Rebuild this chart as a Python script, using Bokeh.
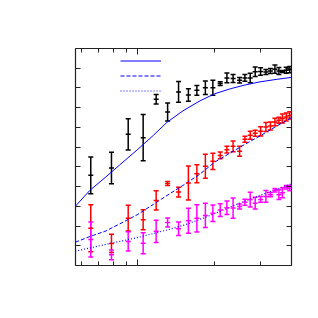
from bokeh.plotting import figure
from bokeh.models import (ColumnDataSource, Whisker, TeeHead, Range1d, FixedTicker,
                          LogAxis, LinearAxis, Legend, LegendItem, CustomJSTickFormatter)
from bokeh.embed import file_html
from bokeh.resources import INLINE

# ---- data ----
x_pts = [0.655, 0.789, 0.917, 1.049, 1.179, 1.307, 1.442, 1.575, 1.700, 1.835, 1.963,
         2.097, 2.227, 2.354, 2.496, 2.618, 2.746, 2.872, 3.015, 3.162, 3.293, 3.429,
         3.554, 3.668, 3.796, 3.917]

black_y = [0.457, 0.494, 0.665, 0.648, 0.843, 0.778, 0.880, 0.864, 0.888, 0.901, 0.901,
           0.922, 0.951, 0.948, 0.939, 0.951, 0.951, 0.982, 0.983, 0.981, 0.986, 0.995,
           0.986, 0.983, 0.990, 0.993]
black_err = [0.093, 0.080, 0.079, 0.117, 0.024, 0.046, 0.053, 0.032, 0.025, 0.034, 0.038,
             0.009, 0.025, 0.020, 0.014, 0.017, 0.024, 0.024, 0.019, 0.013, 0.013, 0.021,
             0.018, 0.005, 0.015, 0.016]

red_y = [0.189, 0.112, 0.240, 0.232, 0.330, 0.416, 0.372, 0.418, 0.465, 0.503, 0.528,
         0.558, 0.587, 0.604, 0.579, 0.640, 0.660, 0.670, 0.680, 0.702, 0.707, 0.727,
         0.736, 0.745, 0.753, 0.761]
red_err = [0.119, 0.046, 0.065, 0.051, 0.049, 0.010, 0.025, 0.086, 0.046, 0.061, 0.041,
           0.017, 0.017, 0.027, 0.025, 0.015, 0.020, 0.015, 0.023, 0.023, 0.020, 0.019,
           0.015, 0.023, 0.020, 0.018]

mag_y = [0.132, 0.054, 0.122, 0.113, 0.173, 0.218, 0.186, 0.227, 0.239, 0.254, 0.265,
         0.281, 0.293, 0.291, 0.299, 0.321, 0.334, 0.316, 0.335, 0.350, 0.359, 0.381,
         0.359, 0.369, 0.397, 0.392]
mag_err = [0.089, 0.025, 0.049, 0.053, 0.056, 0.023, 0.034, 0.063, 0.069, 0.061, 0.042,
           0.032, 0.034, 0.051, 0.013, 0.015, 0.037, 0.030, 0.015, 0.030, 0.011, 0.009,
           0.025, 0.025, 0.009, 0.013]

# model curves
x_curve = [0.57, 0.65, 0.75, 0.85, 1.0, 1.15, 1.3, 1.5, 1.75, 2.0, 2.3, 2.6, 3.0, 3.5, 4.0]
solid_y = [0.300, 0.381, 0.449, 0.510, 0.589, 0.660, 0.726, 0.784, 0.835, 0.871, 0.896,
           0.914, 0.931, 0.944, 0.954]
dashed_y = [0.118, 0.147, 0.175, 0.211, 0.259, 0.310, 0.355, 0.406, 0.464, 0.525, 0.571,
            0.612, 0.657, 0.708, 0.751]
dotted_y = [0.073, 0.089, 0.107, 0.122, 0.142, 0.162, 0.180, 0.203, 0.234, 0.264, 0.297,
            0.325, 0.355, 0.388, 0.415]

x_major = [1.0]
x_minor = [0.6, 0.7, 0.8, 0.9, 2.0, 3.0]
y_ticks = [0.1, 0.2, 0.3, 0.4, 0.5, 0.6, 0.7, 0.8, 0.9, 1.0]

# ---- figure ----
p = figure(frame_width=216, frame_height=217, x_axis_type="log",
           x_range=Range1d(0.571, 3.98), y_range=Range1d(0.0, 1.1),
           output_backend="svg", toolbar_location=None,
           min_border_left=75, min_border_right=10, min_border_top=48, min_border_bottom=30)
p.grid.visible = False
p.outline_line_color = "#222222"
p.outline_line_width = 1.2
p.background_fill_color = "white"
p.border_fill_color = "white"

blank = CustomJSTickFormatter(code="return ''")

def style_axis(ax, major, minor=None):
    ax.ticker = FixedTicker(ticks=major, minor_ticks=minor or [])
    ax.formatter = blank
    ax.major_tick_in = 6
    ax.major_tick_out = 0
    ax.minor_tick_in = 4
    ax.minor_tick_out = 0
    ax.major_tick_line_color = "#222222"
    ax.minor_tick_line_color = "#222222"
    ax.axis_line_color = None
    ax.major_label_standoff = 0

style_axis(p.xaxis[0], x_major, x_minor)
style_axis(p.yaxis[0], y_ticks)
p.yaxis[0].major_tick_in = 5

top = LogAxis()
style_axis(top, x_major, x_minor)
p.add_layout(top, "above")
right = LinearAxis()
style_axis(right, y_ticks)
right.major_tick_in = 5
p.add_layout(right, "right")

# curves
r1 = p.line(x_curve, solid_y, line_color="#0000ff", line_width=1)
r2 = p.line(x_curve, dashed_y, line_color="#0000ff", line_width=1, line_dash="4 2")
r3 = p.line(x_curve, dotted_y, line_color="#0000ff", line_width=1.2, line_dash="1 2")

def errset(ys, errs, color):
    src = ColumnDataSource(dict(x=x_pts, y=ys,
                                lo=[a - b for a, b in zip(ys, errs)],
                                hi=[a + b for a, b in zip(ys, errs)]))
    w = Whisker(base="x", upper="hi", lower="lo", source=src, dimension="height",
                line_color=color, line_width=1.5,
                upper_head=TeeHead(size=5, line_color=color, line_width=1.5),
                lower_head=TeeHead(size=5, line_color=color, line_width=1.5))
    p.add_layout(w)
    p.scatter("x", "y", source=src, marker="dash", size=5, line_color=color, line_width=1.5)

errset(black_y, black_err, "#000000")
errset(red_y, red_err, "#ff0000")
errset(mag_y, mag_err, "#ff00ff")

legend = Legend(items=[LegendItem(label=" ", renderers=[r1]),
                       LegendItem(label=" ", renderers=[r2]),
                       LegendItem(label=" ", renderers=[r3])],
                location=(45, 167), padding=0, margin=0, spacing=0,
                glyph_width=41, glyph_height=15, label_height=15, label_width=1,
                label_standoff=0, label_text_font_size="8px",
                background_fill_alpha=0, border_line_alpha=0)
p.add_layout(legend)

open("out.html", "w").write(file_html(p, INLINE))
